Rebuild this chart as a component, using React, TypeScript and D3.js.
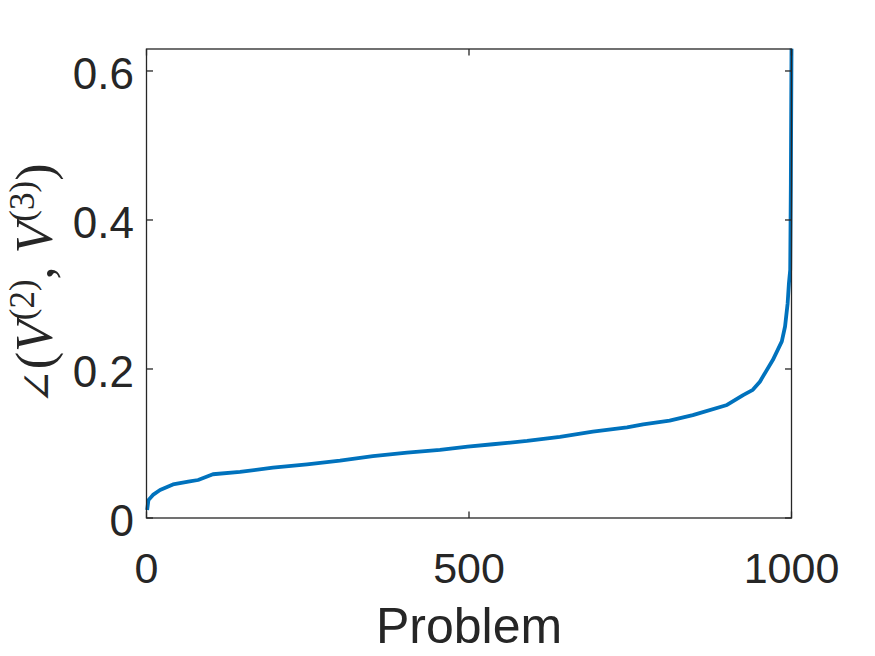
import React from "react";
import * as d3 from "d3";

const problems = [1, 3, 10, 21, 41, 67, 80, 103, 145, 196, 249, 300, 351, 404, 455, 498, 537, 590, 641, 692, 745, 770, 811, 847, 900, 925, 940, 951, 971, 985, 990, 994, 996, 998, 999, 1000];
const angles = [0.0107, 0.024, 0.031, 0.0376, 0.045, 0.049, 0.051, 0.0587, 0.062, 0.0675, 0.072, 0.077, 0.083, 0.0877, 0.0913, 0.0957, 0.099, 0.1034, 0.109, 0.116, 0.1217, 0.1258, 0.1306, 0.138, 0.1517, 0.165, 0.172, 0.183, 0.212, 0.237, 0.257, 0.288, 0.315, 0.333, 0.45, 0.63];
const xTicks = [0, 500, 1000];
const yTicks = [0, 0.2, 0.4, 0.6];

const W = 875;
const H = 656;
const L = 146.5, R = 791.5, T = 49, B = 518;
const AX = "#262626";

export default function App() {
  const x = d3.scaleLinear().domain([0, 1000]).range([L, R]);
  const y = d3.scaleLinear().domain([0, 0.6295]).range([B, T]);
  const line = d3.line<number>().x((_, i) => x(problems[i])).y((d) => y(d));
  const tl = 6.5;
  return (
    <svg width={W} height={H} style={{ position: "absolute", left: 0, top: 0, background: "#fff" }}>
      <rect x={0} y={0} width={W} height={H} fill="#fff" />
      <path d={line(angles) || ""} fill="none" stroke="#0072BD" strokeWidth={3.8} strokeLinejoin="round" />
      <rect x={L} y={T} width={R - L} height={B - T} fill="none" stroke={AX} strokeWidth={1.3} />
      {xTicks.map((t) => (
        <g key={"x" + t}>
          <line x1={x(t)} x2={x(t)} y1={B} y2={B - tl} stroke={AX} strokeWidth={1.3} />
          <line x1={x(t)} x2={x(t)} y1={T} y2={T + tl} stroke={AX} strokeWidth={1.3} />
          <text x={x(t)} y={583} textAnchor="middle" fontFamily="Liberation Sans, Arial, sans-serif" fontSize={43} fill={AX}>{t}</text>
        </g>
      ))}
      {yTicks.map((t) => (
        <g key={"y" + t}>
          <line x1={L} x2={L + tl} y1={y(t)} y2={y(t)} stroke={AX} strokeWidth={1.3} />
          <line x1={R} x2={R - tl} y1={y(t)} y2={y(t)} stroke={AX} strokeWidth={1.3} />
          <text x={134} y={y(t) + 18} textAnchor="end" fontFamily="Liberation Sans, Arial, sans-serif" fontSize={44} fill={AX}>{t === 0 ? "0" : t.toFixed(1)}</text>
        </g>
      ))}
      <text x={(L + R) / 2} y={643} textAnchor="middle" fontFamily="Liberation Sans, Arial, sans-serif" fontSize={50} fill={AX}>Problem</text>
      <text transform="translate(52,284) rotate(-90)" textAnchor="middle" fontFamily="Liberation Serif, Times New Roman, serif" fontSize={52} fill={AX}>
        <tspan fontFamily="DejaVu Serif" fontSize={42} fontWeight={200}>∠</tspan>
        <tspan>(</tspan>
        <tspan fontStyle="italic">V</tspan>
        <tspan fontSize={35} dy={-18}>(2)</tspan>
        <tspan dy={18}>, </tspan>
        <tspan fontStyle="italic">V</tspan>
        <tspan fontSize={35} dy={-18}>(3)</tspan>
        <tspan dy={18}>)</tspan>
      </text>
    </svg>
  );
}
